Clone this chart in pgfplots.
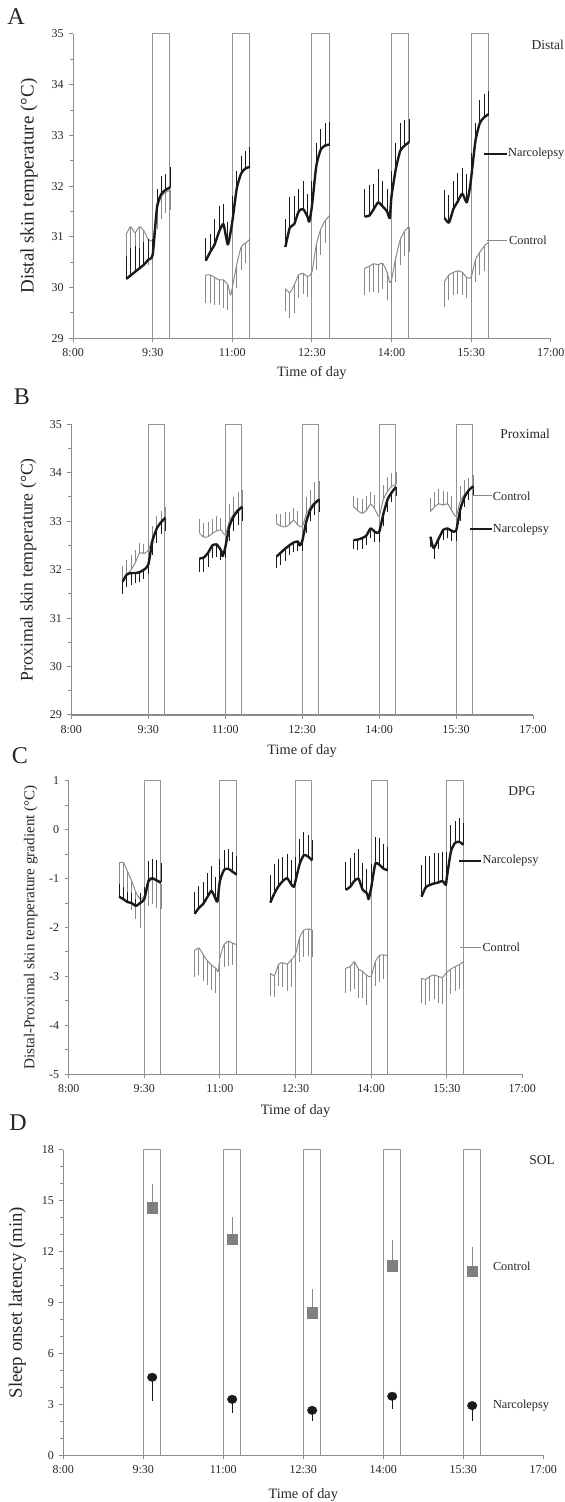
\documentclass[border=0pt]{standalone}
\usepackage{fontspec}
\setmainfont{Liberation Serif}
\usepackage{pgfplots}
\usepackage{pgfplotstable}
\pgfplotsset{compat=1.18}
\definecolor{narc}{HTML}{1A1A1A}
\definecolor{ctrl}{HTML}{8A8A8A}
\definecolor{ctrlD}{HTML}{808080}
\definecolor{boxc}{HTML}{959595}
\definecolor{axc}{HTML}{8C8C8C}
\definecolor{txt}{HTML}{262626}
\newcommand\tickfont{\fontsize{12bp}{14bp}\selectfont}
\newcommand\xlabfont{\fontsize{14.3bp}{16bp}\selectfont}
\newcommand\cornerfont{\fontsize{13.5bp}{15bp}\selectfont}
\newcommand\legfont{\fontsize{12.3bp}{14bp}\selectfont}
\newcommand\letterfont{\fontsize{24bp}{26bp}\selectfont}

\pgfplotsset{
  panel/.style={
    scale only axis, axis lines*=left, xmin=0, xmax=540, clip=false,
    xtick={0,90,180,270,360,450,540},
    xticklabels={8:00,9:30,11:00,12:30,14:00,15:30,17:00},
    tick align=outside, major tick length=4bp, minor tick length=3.5bp,
    minor y tick num=1,
    axis line style={axc, line width=1.1bp},
    tick style={axc, line width=1bp},
    tick label style={font=\tickfont, text=txt},
    xticklabel style={yshift=-3bp},
    yticklabel style={xshift=-2bp},
    xlabel={Time of day},
    xlabel style={font=\xlabfont, text=txt, anchor=center},
    ylabel style={anchor=center, text=txt},
    unbounded coords=jump,
    /pgf/number format/assume math mode=true,
  },
  narcline/.style={narc, line width=2.4bp, mark=none, smooth, tension=0.35, line join=round},
  ctrlline/.style={ctrl, line width=1bp, mark=none, smooth, tension=0.35, line join=round},
  boxline/.style={boxc, line width=1bp, mark=none},
}

% ---------------- Panel A: distal ----------------
\pgfplotstableread{
x y e
60 30.17 0.45
65 30.24 0.55
70 30.31 0.5
75 30.38 0.4
80 30.45 0.45
85 30.55 0.4
90 30.65 0.3
95 31.6 0.35
100 31.85 0.35
105 31.93 0.3
110 31.98 0.4
nan nan nan
150 30.53 0.45
155 30.7 0.35
160 30.85 0.5
165 31.1 0.5
170 31.25 0.4
175 30.85 0.45
180 31.3 0.5
185 31.95 0.35
190 32.25 0.35
195 32.35 0.35
200 32.38 0.4
nan nan nan
240 30.8 0.55
245 31.18 0.6
250 31.25 0.55
255 31.5 0.45
260 31.55 0.55
265 31.4 0.45
267 31.3 0
270 31.6 0.5
275 32.4 0.45
280 32.72 0.4
285 32.8 0.45
290 32.82 0.45
nan nan nan
330 31.4 0.55
335 31.42 0.6
340 31.55 0.5
345 31.68 0.65
350 31.6 0.5
355 31.5 0.45
358 31.37 0
360 31.8 0.5
365 32.35 0.5
370 32.7 0.55
375 32.8 0.5
380 32.87 0.45
nan nan nan
420 31.37 0.55
425 31.28 0.55
430 31.55 0.55
435 31.7 0.55
440 31.85 0.5
445 31.68 0.55
448 31.9 0
450 32.15 0.5
455 32.9 0.35
460 33.25 0.45
465 33.36 0.45
470 33.42 0.45
}\Anarc
\pgfplotstableread{
x y e
60 31.05 0.45
65 31.2 0.6
70 31.08 0.55
75 31.2 0.6
80 31.12 0.55
85 30.95 0.5
90 30.95 0.5
95 31.55 0.4
100 31.8 0.45
105 31.88 0.4
110 31.92 0.4
nan nan nan
150 30.25 0.55
155 30.25 0.55
160 30.2 0.55
165 30.15 0.5
170 30.15 0.55
175 30.05 0.5
178 29.85 0
180 30.0 0.5
185 30.45 0.45
190 30.8 0.45
195 30.88 0.4
200 30.95 0.45
nan nan nan
240 29.98 0.45
245 29.9 0.5
250 30.05 0.55
255 30.25 0.45
260 30.28 0.4
265 30.22 0.4
270 30.3 0.45
275 30.85 0.5
280 31.15 0.5
285 31.32 0.45
290 31.42 0.5
nan nan nan
330 30.38 0.53
335 30.42 0.5
340 30.47 0.55
345 30.45 0.55
350 30.48 0.5
355 30.3 0.55
358 30.1 0
360 30.15 0.45
365 30.6 0.5
370 30.95 0.5
375 31.12 0.5
380 31.2 0.5
nan nan nan
420 30.12 0.5
425 30.25 0.5
430 30.3 0.45
435 30.33 0.45
440 30.3 0.45
445 30.2 0.4
450 30.2 0.4
455 30.55 0.45
460 30.7 0.45
465 30.82 0.5
470 30.9 0.55
}\Actrl

% ---------------- Panel B: proximal ----------------
\pgfplotstableread{
x y e
60 31.75 0.25
65 31.9 0.25
70 31.93 0.25
75 31.93 0.2
80 31.95 0.2
85 32.0 0.2
90 32.1 0.2
95 32.6 0.3
100 32.85 0.3
105 32.98 0.25
110 33.07 0.28
nan nan nan
150 32.23 0.27
155 32.25 0.3
160 32.35 0.3
165 32.5 0.25
170 32.52 0.25
175 32.4 0.2
177 32.28 0
180 32.45 0.2
185 32.9 0.3
190 33.1 0.3
195 33.22 0.3
200 33.3 0.3
nan nan nan
240 32.27 0.24
245 32.35 0.25
250 32.43 0.25
255 32.5 0.2
260 32.56 0.2
265 32.58 0.2
267 32.5 0
270 32.58 0.2
275 33.0 0.25
280 33.25 0.25
285 33.37 0.25
290 33.45 0.25
nan nan nan
330 32.61 0.18
335 32.62 0.22
340 32.65 0.22
345 32.7 0.2
350 32.85 0.2
355 32.78 0.2
360 32.77 0.2
365 33.15 0.25
370 33.45 0.25
375 33.6 0.2
380 33.71 0.2
nan nan nan
420 32.68 0.22
423 32.46 0
425 32.47 0.26
430 32.65 0.22
435 32.82 0.2
440 32.85 0.2
445 32.8 0.2
450 32.8 0.2
455 33.25 0.25
460 33.5 0.2
465 33.64 0.2
470 33.72 0.2
}\Bnarc
\pgfplotstableread{
x y e
60 31.78 0.3
65 31.9 0.3
70 32.0 0.3
75 32.15 0.25
80 32.35 0.2
85 32.33 0.2
90 32.4 0.2
95 32.65 0.25
100 32.85 0.25
105 32.97 0.25
110 33.05 0.25
nan nan nan
150 32.75 0.3
155 32.67 0.3
160 32.68 0.3
165 32.75 0.3
170 32.8 0.3
175 32.82 0.25
180 32.72 0.3
185 33.0 0.35
190 33.15 0.35
195 33.25 0.35
200 33.3 0.35
nan nan nan
240 32.95 0.2
245 32.9 0.25
250 32.88 0.3
255 32.93 0.25
260 33.02 0.25
265 32.92 0.3
270 32.88 0.3
275 33.15 0.35
280 33.3 0.35
285 33.4 0.4
290 33.45 0.38
nan nan nan
330 33.3 0.22
335 33.22 0.25
340 33.16 0.3
345 33.22 0.3
350 33.35 0.25
355 33.25 0.3
360 33.1 0.3
365 33.45 0.3
370 33.62 0.3
375 33.72 0.28
380 33.76 0.25
nan nan nan
420 33.2 0.27
425 33.3 0.3
430 33.36 0.3
435 33.33 0.3
440 33.36 0.25
445 33.22 0.3
450 33.1 0.3
455 33.42 0.3
460 33.55 0.3
465 33.65 0.25
470 33.73 0.22
}\Bctrl

% ---------------- Panel C: DPG ----------------
\pgfplotstableread{
x y e
60 -1.37 0.26
65 -1.42 0.25
70 -1.48 0.2
75 -1.5 0.2
80 -1.56 0.15
85 -1.5 0.2
90 -1.42 0.25
95 -1.05 0.4
100 -1.0 0.4
105 -1.04 0.42
110 -1.08 0.4
nan nan nan
150 -1.72 0.45
155 -1.6 0.45
160 -1.52 0.45
165 -1.38 0.5
170 -1.25 0.5
175 -1.42 0.45
177 -1.47 0
180 -1.05 0.45
185 -0.82 0.4
190 -0.8 0.4
195 -0.86 0.4
200 -0.92 0.38
nan nan nan
240 -1.49 0.56
245 -1.3 0.6
250 -1.15 0.55
255 -1.05 0.5
260 -0.99 0.5
265 -1.12 0.5
268 -1.17 0
270 -1.05 0.5
275 -0.7 0.5
280 -0.52 0.48
285 -0.55 0.45
290 -0.63 0.42
nan nan nan
330 -1.23 0.57
335 -1.17 0.6
340 -1.05 0.58
345 -1.0 0.6
350 -1.23 0.55
355 -1.3 0.5
357 -1.42 0
360 -1.2 0.5
365 -0.7 0.55
370 -0.72 0.55
375 -0.8 0.5
380 -0.83 0.48
nan nan nan
420 -1.37 0.65
425 -1.18 0.65
430 -1.13 0.6
435 -1.1 0.62
440 -1.08 0.6
445 -1.05 0.6
449 -1.13 0
450 -1.0 0.55
455 -0.45 0.55
460 -0.27 0.45
465 -0.25 0.48
470 -0.31 0.45
}\Cnarc
\pgfplotstableread{
x y e
60 -0.68 0.6
65 -0.67 0.65
70 -0.85 0.6
75 -1.05 0.6
80 -1.28 0.55
85 -1.42 0.6
90 -1.35 0.5
95 -1.02 0.55
100 -0.97 0.55
105 -1.05 0.55
110 -1.12 0.5
nan nan nan
150 -2.47 0.55
155 -2.42 0.55
160 -2.55 0.55
165 -2.68 0.5
170 -2.77 0.5
175 -2.83 0.5
178 -2.9 0
180 -2.62 0.4
185 -2.35 0.45
190 -2.28 0.5
195 -2.32 0.45
200 -2.35 0.45
nan nan nan
240 -2.94 0.45
245 -2.98 0.45
250 -2.75 0.45
255 -2.72 0.5
260 -2.75 0.55
265 -2.66 0.55
270 -2.55 0.5
275 -2.2 0.5
280 -2.05 0.55
285 -2.03 0.55
290 -2.05 0.55
nan nan nan
330 -2.83 0.5
335 -2.8 0.5
340 -2.7 0.55
345 -2.85 0.6
350 -2.9 0.55
355 -2.98 0.6
360 -3.0 0.5
365 -2.7 0.5
370 -2.57 0.55
375 -2.56 0.5
380 -2.58 0.5
nan nan nan
420 -3.04 0.5
425 -3.06 0.52
430 -3.0 0.5
435 -2.97 0.5
440 -3.0 0.55
445 -3.02 0.55
450 -2.92 0.5
455 -2.85 0.5
460 -2.8 0.5
465 -2.76 0.5
470 -2.7 0.55
}\Cctrl

% ---------------- Panel D: SOL ----------------
\pgfplotstableread{
x y e
100 14.6 1.4
190 12.75 1.3
280 8.42 1.4
370 11.17 1.5
460 10.85 1.45
}\Dctrl
\pgfplotstableread{
x y e
100 4.6 1.38
190 3.3 0.83
280 2.65 0.6
370 3.48 0.75
460 2.93 0.9
}\Dnarc

\begin{document}
\begin{tikzpicture}
\useasboundingbox (0,0) rectangle (565bp,1502bp);

% ===== A =====
\begin{axis}[panel, at={(73.1bp,1163.7bp)}, anchor=south west,
  width=477.6bp, height=304.3bp, ymin=29, ymax=35, ytick={29,30,...,35},
  ylabel={Distal skin temperature (°C)},
  ylabel style={font=\fontsize{19bp}{21bp}\selectfont, at={(axis description cs:-0.0921,0.5)}},
  xlabel style={at={(axis description cs:0.5,-0.115)}}]
\addplot[boxline] coordinates {(90,29) (90,35) (109.5,35) (109.5,29) (nan,nan)
 (180,29) (180,35) (199.5,35) (199.5,29) (nan,nan)
 (270,29) (270,35) (289.5,35) (289.5,29) (nan,nan)
 (360,29) (360,35) (379.5,35) (379.5,29) (nan,nan)
 (450,29) (450,35) (469.5,35) (469.5,29)};
\addplot[ctrlline, error bars/.cd, y dir=minus, y explicit, error mark=none,
  error bar style={ctrl, line width=1bp}] table[x=x, y=y, y error=e] {\Actrl};
\addplot[narcline, error bars/.cd, y dir=plus, y explicit, error mark=none,
  error bar style={narc, line width=1bp}] table[x=x, y=y, y error=e] {\Anarc};
\end{axis}

% ===== B =====
\begin{axis}[panel, at={(71.3bp,787bp)}, anchor=south west,
  width=461.7bp, height=290.7bp, ymin=29, ymax=35, ytick={29,30,...,35},
  ylabel={Proximal skin temperature (°C)},
  ylabel style={font=\fontsize{17.7bp}{20bp}\selectfont, at={(axis description cs:-0.0931,0.5)}},
  xlabel style={at={(axis description cs:0.5,-0.1256)}}]
\addplot[boxline] coordinates {(90,29) (90,35) (109.5,35) (109.5,29) (nan,nan)
 (180,29) (180,35) (199.5,35) (199.5,29) (nan,nan)
 (270,29) (270,35) (289.5,35) (289.5,29) (nan,nan)
 (360,29) (360,35) (379.5,35) (379.5,29) (nan,nan)
 (450,29) (450,35) (469.5,35) (469.5,29)};
\addplot[ctrlline, error bars/.cd, y dir=plus, y explicit, error mark=none,
  error bar style={ctrl, line width=1bp}] table[x=x, y=y, y error=e] {\Bctrl};
\addplot[narcline, error bars/.cd, y dir=minus, y explicit, error mark=none,
  error bar style={narc, line width=1bp}] table[x=x, y=y, y error=e] {\Bnarc};
\end{axis}

% ===== C =====
\begin{axis}[panel, at={(68.7bp,427.7bp)}, anchor=south west,
  width=453.6bp, height=293.6bp, ymin=-5, ymax=1, ytick={-5,-4,...,1},
  yticklabels={-5,-4,-3,-2,-1,0,1},
  ylabel={Distal-Proximal skin temperature gradient (°C)},
  ylabel style={font=\fontsize{15.1bp}{17bp}\selectfont, at={(axis description cs:-0.0838,0.5)}},
  xlabel style={at={(axis description cs:0.5,-0.126)}}]
\addplot[boxline] coordinates {(90,-5) (90,1) (109.5,1) (109.5,-5) (nan,nan)
 (180,-5) (180,1) (199.5,1) (199.5,-5) (nan,nan)
 (270,-5) (270,1) (289.5,1) (289.5,-5) (nan,nan)
 (360,-5) (360,1) (379.5,1) (379.5,-5) (nan,nan)
 (450,-5) (450,1) (469.5,1) (469.5,-5)};
\addplot[ctrlline, error bars/.cd, y dir=minus, y explicit, error mark=none,
  error bar style={ctrl, line width=1bp}] table[x=x, y=y, y error=e] {\Cctrl};
\addplot[narcline, error bars/.cd, y dir=plus, y explicit, error mark=none,
  error bar style={narc, line width=1bp}] table[x=x, y=y, y error=e] {\Cnarc};
\end{axis}

% ===== D =====
\begin{axis}[panel, at={(63.3bp,46.7bp)}, anchor=south west,
  width=480bp, height=305.3bp, ymin=0, ymax=18, ytick={0,3,...,18},
  minor y tick num=2,
  ylabel={Sleep onset latency (min)},
  ylabel style={font=\fontsize{18.8bp}{21bp}\selectfont, at={(axis description cs:-0.0958,0.5)}},
  xlabel style={at={(axis description cs:0.5,-0.129)}}]
\addplot[boxline] coordinates {(90,0) (90,18) (109.5,18) (109.5,0) (nan,nan)
 (180,0) (180,18) (199.5,18) (199.5,0) (nan,nan)
 (270,0) (270,18) (289.5,18) (289.5,0) (nan,nan)
 (360,0) (360,18) (379.5,18) (379.5,0) (nan,nan)
 (450,0) (450,18) (469.5,18) (469.5,0)};
\addplot[only marks, mark=square*, mark size=5.3bp,
  mark options={fill=ctrlD, draw=ctrlD},
  error bars/.cd, y dir=plus, y explicit, error mark=none,
  error bar style={ctrl, line width=1bp}] table[x=x, y=y, y error=e] {\Dctrl};
\addplot[only marks, mark=*, mark size=4.8bp,
  mark options={fill=narc, draw=narc, yscale=0.88},
  error bars/.cd, y dir=minus, y explicit, error mark=none,
  error bar style={narc, line width=1bp}] table[x=x, y=y, y error=e] {\Dnarc};
\end{axis}

% ===== panel letters =====
\node[text=txt, font=\letterfont, inner sep=0] at (16bp,1485.5bp) {A};
\node[text=txt, font=\letterfont, inner sep=0] at (22bp,1105.5bp) {B};
\node[text=txt, font=\letterfont, inner sep=0] at (20bp,746bp) {C};
\node[text=txt, font=\letterfont, inner sep=0] at (18bp,379bp) {D};

% ===== corner titles =====
\node[text=txt, font=\cornerfont, inner sep=0, anchor=east] at (564bp,1457bp) {Distal};
\node[text=txt, font=\cornerfont, inner sep=0, anchor=east] at (550bp,1068bp) {Proximal};
\node[text=txt, font=\cornerfont, inner sep=0, anchor=east] at (535.5bp,711.3bp) {DPG};
\node[text=txt, font=\cornerfont, inner sep=0, anchor=east] at (555bp,342bp) {SOL};

% ===== series labels =====
\draw[narc, line width=2.3bp] (484bp,1348bp) -- (506.7bp,1348bp);
\node[text=txt, font=\legfont, inner sep=0, anchor=west] at (508bp,1348bp) {Narcolepsy};
\draw[ctrl, line width=1bp] (486.7bp,1261.3bp) -- (506.7bp,1261.3bp);
\node[text=txt, font=\legfont, inner sep=0, anchor=west] at (509bp,1261.3bp) {Control};

\draw[ctrl, line width=1bp] (472.3bp,1006bp) -- (491.7bp,1006bp);
\node[text=txt, font=\legfont, inner sep=0, anchor=west] at (492.7bp,1006bp) {Control};
\draw[narc, line width=2.3bp] (470bp,972.7bp) -- (491.7bp,972.7bp);
\node[text=txt, font=\legfont, inner sep=0, anchor=west] at (492.7bp,972.7bp) {Narcolepsy};

\draw[narc, line width=2.3bp] (459.3bp,641bp) -- (480.7bp,641bp);
\node[text=txt, font=\legfont, inner sep=0, anchor=west] at (482.3bp,641bp) {Narcolepsy};
\draw[ctrl, line width=1bp] (460bp,554.3bp) -- (480.7bp,554.3bp);
\node[text=txt, font=\legfont, inner sep=0, anchor=west] at (482.3bp,554.3bp) {Control};

\node[text=txt, font=\legfont, inner sep=0, anchor=west] at (492.8bp,235.3bp) {Control};
\node[text=txt, font=\legfont, inner sep=0, anchor=west] at (492.8bp,96.3bp) {Narcolepsy};
\end{tikzpicture}
\end{document}
